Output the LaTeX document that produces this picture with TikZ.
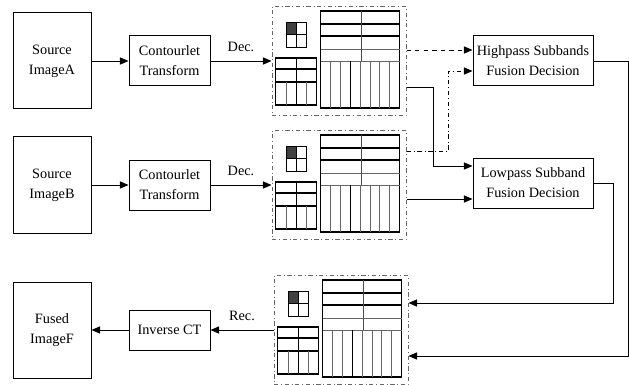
\documentclass[tikz,border=0pt]{standalone}
\usepackage{fontspec}
\setmainfont{Liberation Serif}
\usetikzlibrary{arrows.meta}

\tikzset{
  block/.style={draw, line width=0.7pt, align=center, inner sep=1pt,
    font=\fontsize{10}{14}\selectfont},
  imgbox/.style={block, minimum width=54.6pt, minimum height=67.2pt},
  ctbox/.style={block, minimum width=56.7pt, minimum height=35pt},
  fusebox/.style={block, minimum width=84pt, minimum height=35pt},
  panel/.style={draw=black!60, dash dot, line width=0.7pt,
    minimum width=93.8pt, minimum height=76.3pt, inner sep=0pt},
  flow/.style={-{Triangle[length=6pt,width=5pt]}, line width=0.6pt},
  lbl/.style={font=\fontsize{10}{12}\selectfont, above=3pt},
  % subband layout of a contourlet decomposition
  pics/subbands/.style={code={
    \fill[black!75] (15,16) rectangle (25,28.5);
    \draw[line width=0.6pt] (15,16) rectangle (35,41)
      (25,16) -- (25,41) (15,28.5) -- (35,28.5);
    \draw[line width=0.9pt] (4,52) rectangle (45,99);
    \draw[line width=0.8pt] (4,63) -- (45,63) (4,76) -- (45,76) (25,52) -- (25,99);
    \draw[black!60] (15,76) -- (15,99) (35,76) -- (35,99);
    \draw[line width=0.9pt] (49,5) rectangle (128,102);
    \foreach \y in {18,30} \draw[line width=0.8pt] (49,\y) -- (128,\y);
    \foreach \y in {43,55} \draw[black!60] (49,\y) -- (128,\y);
    \draw[black!70] (90,5) -- (90,55);
    \foreach \k in {1,...,7} \draw[black!60] ({49+9.875*\k},55) -- ({49+9.875*\k},102);
    \draw[line width=0.8pt] (78.6,55) -- (78.6,102);
  }}
}

\begin{document}
\begin{tikzpicture}[x=0.7pt,y=-0.7pt]
\useasboundingbox (0,0) rectangle (629,385);

% inputs and output
\node[imgbox] (srcA) at (52,61) {Source\\ImageA};
\node[imgbox] (srcB) at (52,185) {Source\\ImageB};
\node[imgbox] (fused) at (52,330) {Fused\\ImageF};

\node[ctbox] (ctA) at (169.5,61) {Contourlet\\Transform};
\node[ctbox] (ctB) at (169.5,185) {Contourlet\\Transform};
\node[ctbox, minimum height=28pt] (ict) at (169.5,330) {Inverse CT};

% coefficient panels
\node[panel] (panA) at (339,61) {};
\node[panel] (panB) at (339,185) {};
\node[panel] (panC) at (341,330) {};
\pic at (panA.north west) {subbands};
\pic at (panB.north west) {subbands};
\pic at (panC.north west) {subbands};

% fusion rules
\node[fusebox] (hp) at (533,61) {Highpass Subbands\\Fusion Decision};
\node[fusebox] (lp) at (533,183) {Lowpass Subband\\Fusion Decision};

\coordinate (hpin1) at ([yshift=7.7pt]hp.west);
\coordinate (hpin2) at ([yshift=-7pt]hp.west);
\coordinate (lpin1) at ([yshift=11.9pt]lp.west);
\coordinate (lpin2) at ([yshift=-11.2pt]lp.west);
\coordinate (aout) at ([yshift=-18.2pt]panA.east);
\coordinate (bout) at ([yshift=23.8pt]panB.east);
\coordinate (cin1) at ([yshift=18.9pt]panC.east);
\coordinate (cin2) at ([yshift=-18.2pt]panC.east);

\draw[flow] (srcA) -- (ctA);
\draw[flow] (srcB) -- (ctB);
\draw[flow] (ctA) -- node[lbl] {Dec.} (panA);
\draw[flow] (ctB) -- node[lbl] {Dec.} (panB);

\draw[flow, dashed] (panA.east |- hpin1) -- (hpin1);
\draw[flow] (aout) -- ++(27,0) |- (lpin1);
\draw[flow, dash dot] (bout) -- ++(42,0) |- (hpin2);
\draw[flow] (panB.east |- lpin2) -- (lpin2);

\draw[flow] (hp.east) -- ++(35,0) |- (cin2);
\draw[flow] (lp.east) -- ++(20,0) |- (cin1);

\draw[flow] (panC) -- node[lbl] {Rec.} (ict);
\draw[flow] (ict) -- (fused);
\end{tikzpicture}
\end{document}
